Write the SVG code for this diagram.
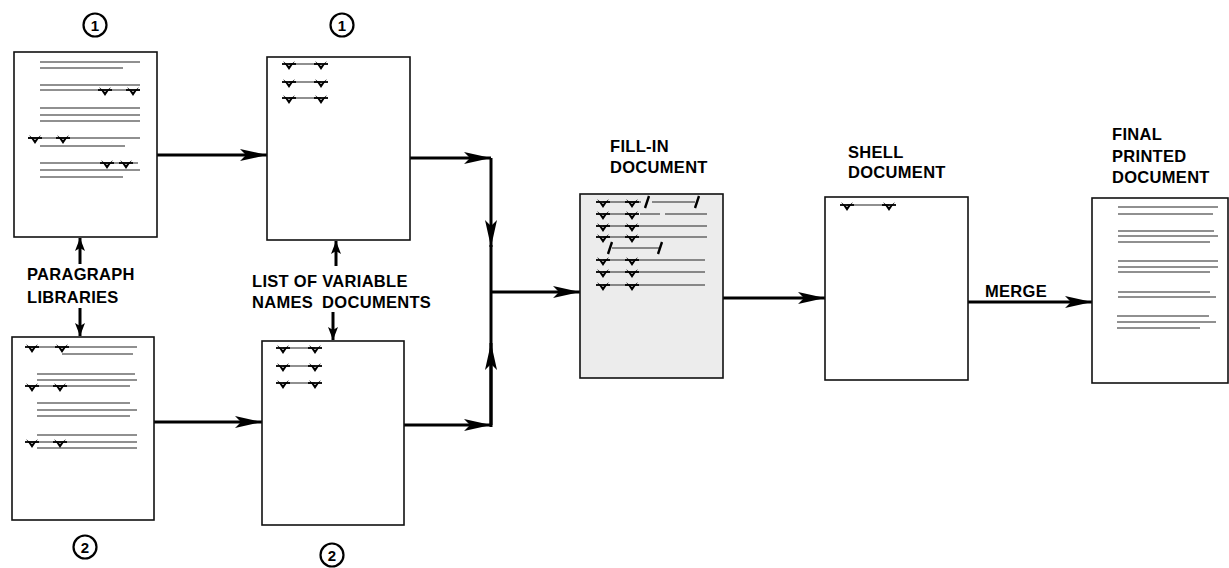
<svg xmlns="http://www.w3.org/2000/svg" xmlns:xlink="http://www.w3.org/1999/xlink" width="1229" height="568" viewBox="0 0 1229 568">
<style>
.doc{fill:#fff;stroke:#111;stroke-width:1.6}
.fill{fill:#ececec;stroke:#111;stroke-width:1.6}
.ln{stroke:#222;stroke-width:1.1;fill:none}
.con{stroke:#000;stroke-width:3;fill:none}
.sm{stroke:#000;stroke-width:3;fill:none}
.lbl{font-family:"Liberation Sans",Arial,sans-serif;font-weight:bold;font-size:16.5px;letter-spacing:0.3px;fill:#000}
.num{font-family:"Liberation Sans",Arial,sans-serif;font-weight:bold;font-size:15px;fill:#000;text-anchor:middle}
.circ{fill:none;stroke:#000;stroke-width:2.2}
.sl{stroke:#000;stroke-width:2.4;fill:none}
</style>
<defs>
<marker id="ah" markerUnits="userSpaceOnUse" viewBox="-28 -7 29 14" refX="0" refY="0" markerWidth="29" markerHeight="14" orient="auto">
<path d="M0,0 L-27,-6 L-21,0 L-27,6 Z" fill="#000"/>
</marker>
<marker id="as" markerUnits="userSpaceOnUse" viewBox="-14 -6 15 12" refX="0" refY="0" markerWidth="15" markerHeight="12" orient="auto">
<path d="M0,0 L-13,-5 L-10,0 L-13,5 Z" fill="#000"/>
</marker>
<g id="v">
<path d="M-7,-2 H7" stroke="#000" stroke-width="1.8"/>
<path d="M-6,-5 L0,4 L6,-5 L0,0 Z" fill="#000"/>
</g>
</defs>

<g id="connectors">
<path class="con" d="M157,155 H267" marker-end="url(#ah)"/>
<path class="con" d="M154,422 H262" marker-end="url(#ah)"/>
<path class="con" d="M410,158 H491" marker-end="url(#ah)"/>
<path class="con" d="M491,158 V247" marker-end="url(#ah)"/>
<path class="con" d="M491,245 V427"/>
<path class="con" d="M404,425 H491" marker-end="url(#ah)"/>
<path class="con" d="M491,425 V343" marker-end="url(#ah)"/>
<path class="con" d="M491,292 H580" marker-end="url(#ah)"/>
<path class="con" d="M723,298 H825" marker-end="url(#ah)"/>
<path class="con" d="M968,302 H1092" marker-end="url(#ah)"/>
<path class="sm" d="M80,264 V238" marker-end="url(#as)"/>
<path class="sm" d="M80,308 V336" marker-end="url(#as)"/>
<path class="sm" d="M336,266 V241" marker-end="url(#as)"/>
<path class="sm" d="M333,312 V340" marker-end="url(#as)"/>
</g>

<g id="para-lib-1">
<circle class="circ" cx="95" cy="25" r="11.5"/>
<text class="num" x="95" y="30.5">1</text>
<rect class="doc" x="14" y="52" width="143" height="185"/>
<path class="ln" d="M40,62 H140 M40,68 H123 M40,85 H140 M40,90 H140 M40,108 H140 M40,115 H140 M40,121 H140 M28,138 H140 M40,146 H125 M40,163 H138 M40,170 H140 M40,177 H123"/>
<use xlink:href="#v" x="105" y="92"/>
<use xlink:href="#v" x="133" y="92"/>
<use xlink:href="#v" x="35" y="140"/>
<use xlink:href="#v" x="63" y="140"/>
<use xlink:href="#v" x="107" y="165"/>
<use xlink:href="#v" x="126" y="165"/>
</g>

<g id="para-lib-label">
<text class="lbl" x="27" y="280">PARAGRAPH</text>
<text class="lbl" x="27" y="303">LIBRARIES</text>
</g>

<g id="para-lib-2">
<rect class="doc" x="12" y="337" width="142" height="183"/>
<path class="ln" d="M28,347 H137 M62,354 H133 M37,374 H135 M37,380 H137 M28,386 H130 M37,403 H130 M37,410 H137 M37,416 H130 M37,435 H137 M28,442 H137 M37,448 H137"/>
<use xlink:href="#v" x="32" y="349"/>
<use xlink:href="#v" x="62" y="349"/>
<use xlink:href="#v" x="32" y="388"/>
<use xlink:href="#v" x="60" y="388"/>
<use xlink:href="#v" x="32" y="444"/>
<use xlink:href="#v" x="60" y="444"/>
<circle class="circ" cx="85" cy="547" r="11.5"/>
<text class="num" x="85" y="552.5">2</text>
</g>

<g id="var-names-1">
<circle class="circ" cx="342" cy="25" r="11.5"/>
<text class="num" x="342" y="30.5">1</text>
<rect class="doc" x="267" y="57" width="143" height="183"/>
<path class="ln" d="M289,64 H321 M289,82 H321 M289,98 H321"/>
<use xlink:href="#v" x="289" y="66"/>
<use xlink:href="#v" x="321" y="66"/>
<use xlink:href="#v" x="289" y="84"/>
<use xlink:href="#v" x="321" y="84"/>
<use xlink:href="#v" x="289" y="100"/>
<use xlink:href="#v" x="321" y="100"/>
</g>

<g id="var-names-label">
<text class="lbl" x="252" y="287">LIST OF VARIABLE</text>
<text class="lbl" x="252" y="308">NAMES<tspan dx="9">DOCUMENTS</tspan></text>
</g>

<g id="var-names-2">
<rect class="doc" x="262" y="341" width="142" height="184"/>
<path class="ln" d="M283,348 H315 M283,366 H315 M283,383 H315"/>
<use xlink:href="#v" x="283" y="350"/>
<use xlink:href="#v" x="315" y="350"/>
<use xlink:href="#v" x="283" y="368"/>
<use xlink:href="#v" x="315" y="368"/>
<use xlink:href="#v" x="283" y="385"/>
<use xlink:href="#v" x="315" y="385"/>
<circle class="circ" cx="332" cy="555" r="11.5"/>
<text class="num" x="332" y="560.5">2</text>
</g>

<g id="fill-in">
<text class="lbl" x="610" y="152">FILL-IN</text>
<text class="lbl" x="610" y="173">DOCUMENT</text>
<rect class="fill" x="580" y="194" width="143" height="184"/>
<path class="ln" d="M603,202 H641 M652,202 H695 M603,214 H632 M640,214 H660 M665,214 H707 M603,226 H707 M603,237 H707 M612,248 H659 M603,260 H705 M603,272 H705 M603,285 H705"/>
<path class="sl" d="M645,208 L649,196 M695,208 L699,196 M608,254 L612,242 M658,254 L662,242"/>
<use xlink:href="#v" x="603" y="204"/>
<use xlink:href="#v" x="632" y="204"/>
<use xlink:href="#v" x="603" y="216"/>
<use xlink:href="#v" x="632" y="216"/>
<use xlink:href="#v" x="603" y="228"/>
<use xlink:href="#v" x="632" y="228"/>
<use xlink:href="#v" x="603" y="239"/>
<use xlink:href="#v" x="632" y="239"/>
<use xlink:href="#v" x="603" y="262"/>
<use xlink:href="#v" x="632" y="262"/>
<use xlink:href="#v" x="603" y="274"/>
<use xlink:href="#v" x="632" y="274"/>
<use xlink:href="#v" x="603" y="287"/>
<use xlink:href="#v" x="632" y="287"/>
</g>

<g id="shell">
<text class="lbl" x="848" y="158">SHELL</text>
<text class="lbl" x="848" y="178">DOCUMENT</text>
<rect class="doc" x="825" y="197" width="143" height="183"/>
<path class="ln" d="M847,205 H889"/>
<use xlink:href="#v" x="847" y="207"/>
<use xlink:href="#v" x="889" y="207"/>
</g>

<g id="merge-label">
<text class="lbl" x="985" y="297">MERGE</text>
</g>

<g id="final">
<text class="lbl" x="1112" y="140">FINAL</text>
<text class="lbl" x="1112" y="162">PRINTED</text>
<text class="lbl" x="1112" y="183">DOCUMENT</text>
<rect class="doc" x="1092" y="198" width="136" height="185"/>
<path class="ln" d="M1118,207 H1218 M1118,214 H1213 M1118,231 H1214 M1118,236 H1218 M1118,242 H1210 M1118,261 H1218 M1118,267 H1218 M1118,272 H1210 M1118,292 H1210 M1118,297 H1216 M1117,316 H1209 M1117,322 H1216 M1117,328 H1200"/>
</g>
</svg>
